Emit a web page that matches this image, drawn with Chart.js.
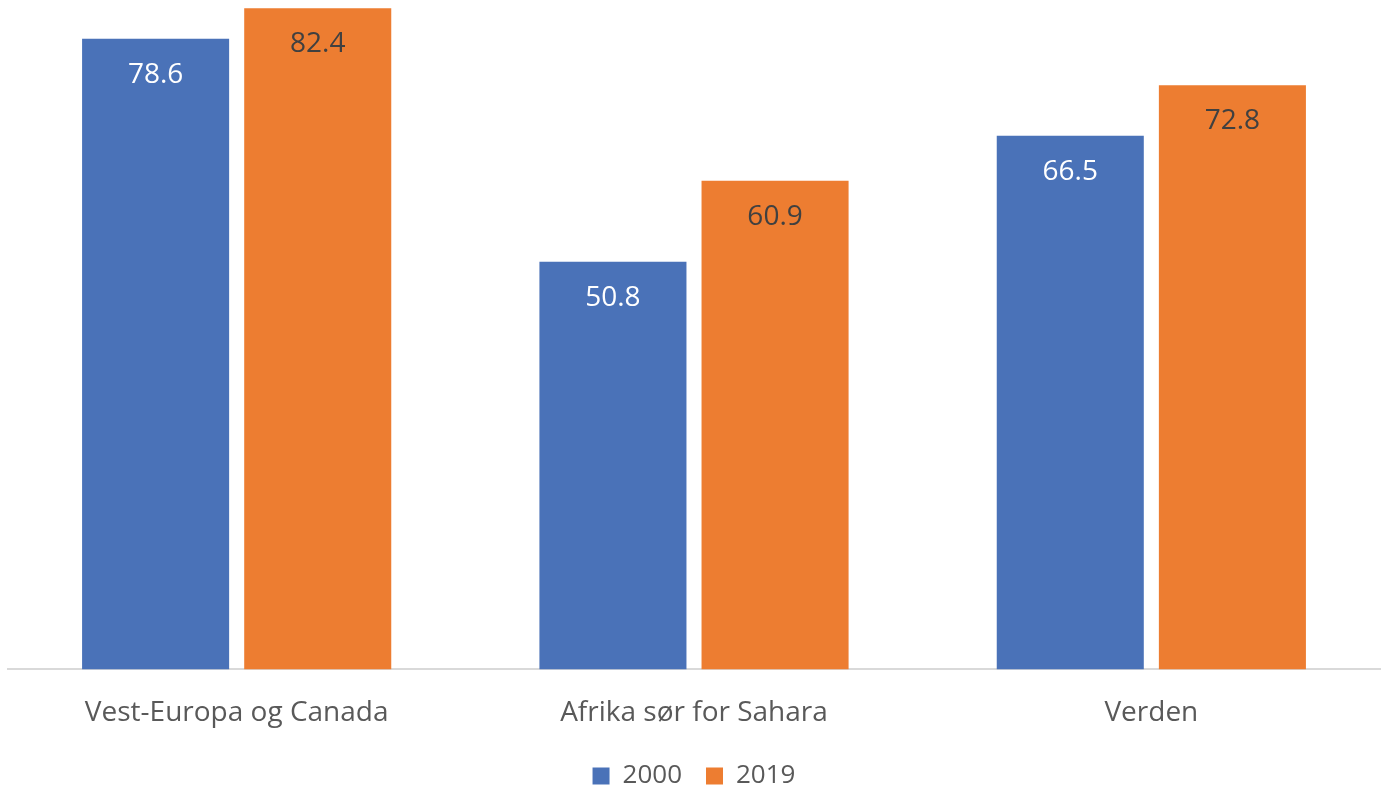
<!DOCTYPE html>
<html>
<head>
<meta charset="utf-8">
<script src="https://cdn.jsdelivr.net/npm/chart.js@4"></script>
<style>
  html, body { margin: 0; padding: 0; background: #fff; }
  #wrap { width: 1382px; height: 789px; }
</style>
</head>
<body>
<div id="wrap"><canvas id="myChart"></canvas></div>
<script>
var regions = ["Vest-Europa og Canada", "Afrika sør for Sahara", "Verden"];
var values2000 = [78.6, 50.8, 66.5];
var values2019 = [82.4, 60.9, 72.8];

// labels drawn inside the top of each bar
var barLabels = {
  id: "barLabels",
  afterDatasetsDraw: function (chart) {
    var ctx = chart.ctx;
    ctx.save();
    ctx.font = "28px 'Open Sans'";
    ctx.textAlign = "center";
    ctx.textBaseline = "middle";
    chart.data.datasets.forEach(function (ds, i) {
      ctx.fillStyle = i == 0 ? "#ffffff" : "#404040";
      chart.getDatasetMeta(i).data.forEach(function (bar, j) {
        ctx.fillText(ds.data[j].toFixed(1), bar.x, bar.y + 36);
      });
    });
    ctx.restore();
  }
};

new Chart("myChart", {
  type: "bar",
  data: {
    labels: regions,
    datasets: [{
      label: "2000",
      data: values2000,
      backgroundColor: "#4A72B8"
    }, {
      label: "2019",
      data: values2019,
      backgroundColor: "#ED7D31"
    }]
  },
  options: {
    responsive: true,
    maintainAspectRatio: false,
    animation: false,
    categoryPercentage: 0.709,
    barPercentage: 0.907,
    layout: { padding: { top: 5, left: 8, right: 2, bottom: -10 } },
    plugins: {
      legend: {
        position: "bottom",
        labels: {
          boxWidth: 17,
          boxHeight: 17,
          padding: 24,
          color: "#595959",
          font: { family: "'Open Sans'", size: 26 }
        }
      },
      tooltip: { enabled: false }
    },
    scales: {
      x: {
        grid: { display: false },
        border: { color: "#D9D9D9", width: 2 },
        ticks: {
          color: "#595959",
          padding: 19,
          font: { family: "'Open Sans'", size: 28 }
        },
        afterFit: function (scale) { scale.height -= 10; }
      },
      y: {
        display: false,
        min: 0,
        max: 82.8
      }
    }
  },
  plugins: [barLabels]
});
</script>
</body>
</html>
